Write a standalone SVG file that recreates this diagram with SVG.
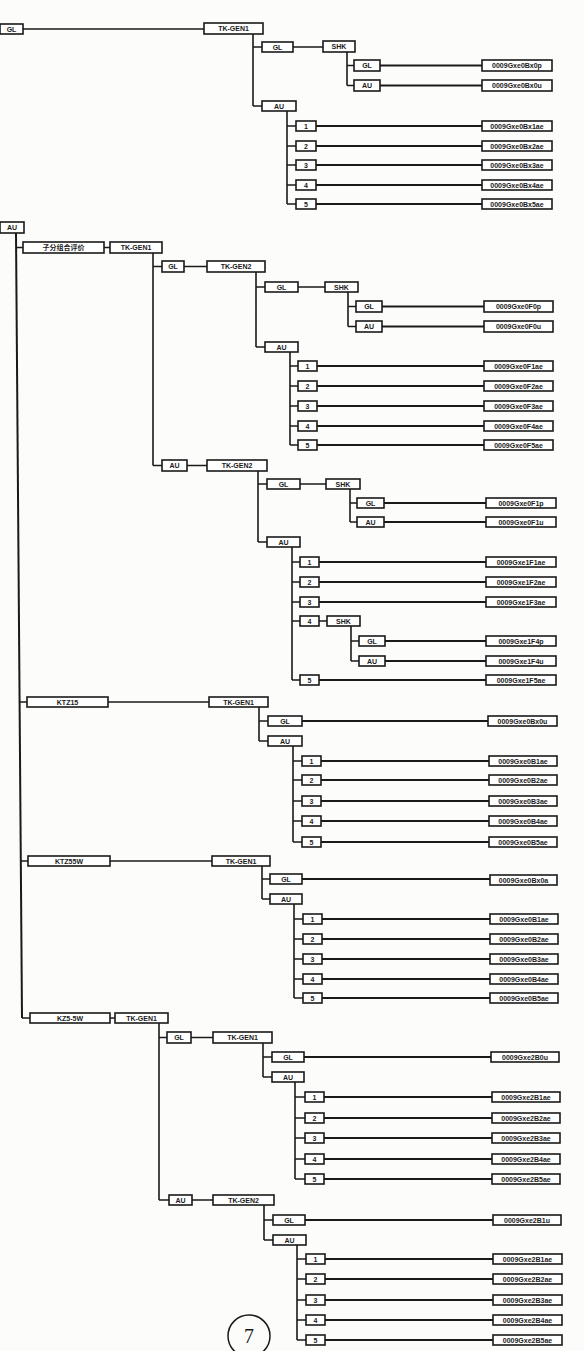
<svg xmlns="http://www.w3.org/2000/svg" width="584" height="1351" viewBox="0 0 584 1351">
<style>
.b{fill:#fff;stroke:#1a1a1a;stroke-width:1.6}
.t{font-family:"Liberation Sans",Arial,sans-serif;font-size:7px;font-weight:bold;fill:#1a1a1a;text-anchor:middle}
.tc{font-family:"Liberation Sans","Noto Sans CJK SC",sans-serif;font-size:7px;font-weight:bold;fill:#1a1a1a;text-anchor:middle}
.c{fill:none;stroke:#1a1a1a;stroke-width:1.6}
.w{stroke-width:2}
</style>
<rect width="584" height="1351" fill="#fcfcfb"/>
<g id="connectors">
<path class="c" d="M23 29H204M253 34V106M253 47H262M253 106H262M293 47H323M347 52V85.5M347 65.5H354M347 85.5H354M287 111V204M287 126H296M287 146H296M287 165H296M287 185H296M287 204H296"/>
<path class="c w" d="M380 65.5H482M380 85.5H482M316 126H482M316 146H482M316 165H482M316 185H482M316 204H482"/>
<path class="c w" d="M16 233L22 1018"/>
<path class="c" d="M16 247.5H23M104 247.5H110M153 253V465.5M153 266.5H162M153 465.5H162M184 266.5H207M256 272V347M256 287H265M256 347H265M298 287H325M348 292V326.5M348 306.5H356M348 326.5H356M290 352V445M290 366H298M290 386H298M290 406H298M290 426H298M290 445H298"/>
<path class="c w" d="M382 306.5H484M382 326.5H484M317 366H484M317 386H484M317 406H484M317 426H484M317 445H484"/>
<path class="c" d="M187 465.5H207M258 471V542M258 484H267M258 542H267M300 484H326M350 489V522M350 503H357M350 522H357M292 547V680M292 562H300M292 582H300M292 602H300M292 621H300M292 680H300M319 621H327M351 626V661M351 641H359M351 661H359"/>
<path class="c w" d="M384 503H486M384 522H486M319 562H486M319 582H486M319 602H486M319 680H486M385 641H486M385 661H486"/>
<path class="c" d="M19.6 702H27M108 702H209M259 707V741M259 721H268M259 741H268M293 746V842M293 761H302M293 780H302M293 801H302M293 821H302M293 842H302"/>
<path class="c w" d="M302 721H488M321 761H489M321 780H489M321 801H489M321 821H489M321 842H489"/>
<path class="c" d="M20.8 861H28M110 861H212M262 866V899M262 879H270M262 899H270M294 904V998M294 919H303M294 939H303M294 959H303M294 979H303M294 998H303"/>
<path class="c w" d="M302 879H490M322 919H490M322 939H490M322 959H490M322 979H490M322 998H490"/>
<path class="c" d="M22 1018H30M110 1018H115M159 1023V1200M159 1037.5H167M159 1200H169M191 1037.5H213M263 1043V1077M263 1057H272M263 1077H272M295 1082V1179M295 1097H305M295 1118H305M295 1138H305M295 1159H305M295 1179H305M192 1200H213M264 1205V1240M264 1220H273M264 1240H273M297 1245V1340M297 1259H306M297 1279H306M297 1300H306M297 1320H306M297 1340H306"/>
<path class="c w" d="M304 1057H491M324 1097H492M324 1118H492M324 1138H492M324 1159H492M324 1179H492M305 1220H493M325 1259H493M325 1279H493M325 1300H493M325 1320H493M325 1340H493"/>
</g>
<!-- section 0 -->
<g id="n0"><rect class="b" x="0" y="24" width="23" height="10"/><text class="t" x="11.5" y="31.5">GL</text></g>
<g id="n0a"><rect class="b" x="204" y="23" width="59" height="11"/><text class="t" x="233.5" y="31">TK-GEN1</text></g>
<g id="n0b"><rect class="b" x="262" y="42" width="31" height="10"/><text class="t" x="277.5" y="49.5">GL</text></g>
<g id="n0c"><rect class="b" x="323" y="41" width="32" height="11"/><text class="t" x="339" y="49">SHK</text></g>
<g id="n0d"><rect class="b" x="354" y="60" width="26" height="11"/><text class="t" x="367" y="68">GL</text></g>
<g id="n0e"><rect class="b" x="482" y="60" width="70" height="11"/><text class="t" x="517" y="68">0009Gxe0Bx0p</text></g>
<g id="n0f"><rect class="b" x="354" y="80" width="26" height="11"/><text class="t" x="367" y="88">AU</text></g>
<g id="n0g"><rect class="b" x="482" y="80" width="70" height="11"/><text class="t" x="517" y="88">0009Gxe0Bx0u</text></g>
<g id="n0h"><rect class="b" x="262" y="101" width="34" height="10"/><text class="t" x="279" y="108.5">AU</text></g>
<g id="n0i1"><rect class="b" x="296" y="121" width="20" height="10"/><text class="t" x="306" y="128.5">1</text></g>
<g id="n0i2"><rect class="b" x="296" y="141" width="20" height="10"/><text class="t" x="306" y="148.5">2</text></g>
<g id="n0i3"><rect class="b" x="296" y="160" width="20" height="10"/><text class="t" x="306" y="167.5">3</text></g>
<g id="n0i4"><rect class="b" x="296" y="180" width="20" height="10"/><text class="t" x="306" y="187.5">4</text></g>
<g id="n0i5"><rect class="b" x="296" y="199" width="20" height="10"/><text class="t" x="306" y="206.5">5</text></g>
<g id="n0j1"><rect class="b" x="482" y="121" width="70" height="10"/><text class="t" x="517" y="128.5">0009Gxe0Bx1ae</text></g>
<g id="n0j2"><rect class="b" x="482" y="141" width="70" height="10"/><text class="t" x="517" y="148.5">0009Gxe0Bx2ae</text></g>
<g id="n0j3"><rect class="b" x="482" y="160" width="70" height="10"/><text class="t" x="517" y="167.5">0009Gxe0Bx3ae</text></g>
<g id="n0j4"><rect class="b" x="482" y="180" width="70" height="10"/><text class="t" x="517" y="187.5">0009Gxe0Bx4ae</text></g>
<g id="n0j5"><rect class="b" x="482" y="199" width="70" height="10"/><text class="t" x="517" y="206.5">0009Gxe0Bx5ae</text></g>
<!-- section 1 -->
<g id="n1"><rect class="b" x="0" y="222" width="24" height="11"/><text class="t" x="12" y="230">AU</text></g>
<g id="n1a"><rect class="b" x="23" y="242" width="81" height="11"/><text class="tc" x="63.5" y="250">子分组合评价</text></g>
<g id="n1b"><rect class="b" x="110" y="242" width="52" height="11"/><text class="t" x="136" y="250">TK-GEN1</text></g>
<g id="n1c"><rect class="b" x="162" y="261" width="22" height="11"/><text class="t" x="173" y="269">GL</text></g>
<g id="n1d"><rect class="b" x="207" y="261" width="58" height="11"/><text class="t" x="236" y="269">TK-GEN2</text></g>
<g id="n1e"><rect class="b" x="265" y="282" width="33" height="10"/><text class="t" x="281.5" y="289.5">GL</text></g>
<g id="n1f"><rect class="b" x="325" y="282" width="33" height="10"/><text class="t" x="341.5" y="289.5">SHK</text></g>
<g id="n1g"><rect class="b" x="356" y="301" width="26" height="11"/><text class="t" x="369" y="309">GL</text></g>
<g id="n1h"><rect class="b" x="484" y="301" width="69" height="11"/><text class="t" x="518.5" y="309">0009Gxe0F0p</text></g>
<g id="n1i"><rect class="b" x="356" y="321" width="26" height="11"/><text class="t" x="369" y="329">AU</text></g>
<g id="n1j"><rect class="b" x="484" y="321" width="69" height="11"/><text class="t" x="518.5" y="329">0009Gxe0F0u</text></g>
<g id="n1k"><rect class="b" x="265" y="342" width="33" height="10"/><text class="t" x="281.5" y="349.5">AU</text></g>
<g id="n1l1"><rect class="b" x="298" y="361" width="19" height="10"/><text class="t" x="307.5" y="368.5">1</text></g>
<g id="n1l2"><rect class="b" x="298" y="381" width="19" height="10"/><text class="t" x="307.5" y="388.5">2</text></g>
<g id="n1l3"><rect class="b" x="298" y="401" width="19" height="10"/><text class="t" x="307.5" y="408.5">3</text></g>
<g id="n1l4"><rect class="b" x="298" y="421" width="19" height="10"/><text class="t" x="307.5" y="428.5">4</text></g>
<g id="n1l5"><rect class="b" x="298" y="440" width="19" height="10"/><text class="t" x="307.5" y="447.5">5</text></g>
<g id="n1m1"><rect class="b" x="484" y="361" width="69" height="10"/><text class="t" x="518.5" y="368.5">0009Gxe0F1ae</text></g>
<g id="n1m2"><rect class="b" x="484" y="381" width="69" height="10"/><text class="t" x="518.5" y="388.5">0009Gxe0F2ae</text></g>
<g id="n1m3"><rect class="b" x="484" y="401" width="69" height="10"/><text class="t" x="518.5" y="408.5">0009Gxe0F3ae</text></g>
<g id="n1m4"><rect class="b" x="484" y="421" width="69" height="10"/><text class="t" x="518.5" y="428.5">0009Gxe0F4ae</text></g>
<g id="n1m5"><rect class="b" x="484" y="440" width="69" height="10"/><text class="t" x="518.5" y="447.5">0009Gxe0F5ae</text></g>
<g id="n2a"><rect class="b" x="162" y="460" width="25" height="11"/><text class="t" x="174.5" y="468">AU</text></g>
<g id="n2b"><rect class="b" x="207" y="460" width="60" height="11"/><text class="t" x="237" y="468">TK-GEN2</text></g>
<g id="n2c"><rect class="b" x="267" y="479" width="33" height="10"/><text class="t" x="283.5" y="486.5">GL</text></g>
<g id="n2d"><rect class="b" x="326" y="479" width="34" height="10"/><text class="t" x="343" y="486.5">SHK</text></g>
<g id="n2e"><rect class="b" x="357" y="498" width="27" height="10"/><text class="t" x="370.5" y="505.5">GL</text></g>
<g id="n2f"><rect class="b" x="486" y="498" width="70" height="10"/><text class="t" x="521" y="505.5">0009Gxe0F1p</text></g>
<g id="n2g"><rect class="b" x="357" y="517" width="27" height="10"/><text class="t" x="370.5" y="524.5">AU</text></g>
<g id="n2h"><rect class="b" x="486" y="517" width="70" height="10"/><text class="t" x="521" y="524.5">0009Gxe0F1u</text></g>
<g id="n2i"><rect class="b" x="267" y="537" width="33" height="10"/><text class="t" x="283.5" y="544.5">AU</text></g>
<g id="n2j1"><rect class="b" x="300" y="557" width="19" height="10"/><text class="t" x="309.5" y="564.5">1</text></g>
<g id="n2j2"><rect class="b" x="300" y="577" width="19" height="10"/><text class="t" x="309.5" y="584.5">2</text></g>
<g id="n2j3"><rect class="b" x="300" y="597" width="19" height="10"/><text class="t" x="309.5" y="604.5">3</text></g>
<g id="n2j4"><rect class="b" x="300" y="616" width="19" height="10"/><text class="t" x="309.5" y="623.5">4</text></g>
<g id="n2j5"><rect class="b" x="300" y="675" width="19" height="10"/><text class="t" x="309.5" y="682.5">5</text></g>
<g id="n2k1"><rect class="b" x="486" y="557" width="70" height="10"/><text class="t" x="521" y="564.5">0009Gxe1F1ae</text></g>
<g id="n2k2"><rect class="b" x="486" y="577" width="70" height="10"/><text class="t" x="521" y="584.5">0009Gxe1F2ae</text></g>
<g id="n2k3"><rect class="b" x="486" y="597" width="70" height="10"/><text class="t" x="521" y="604.5">0009Gxe1F3ae</text></g>
<g id="n2l"><rect class="b" x="327" y="616" width="33" height="10"/><text class="t" x="343.5" y="623.5">SHK</text></g>
<g id="n2m"><rect class="b" x="359" y="636" width="26" height="10"/><text class="t" x="372" y="643.5">GL</text></g>
<g id="n2n"><rect class="b" x="486" y="636" width="70" height="10"/><text class="t" x="521" y="643.5">0009Gxe1F4p</text></g>
<g id="n2o"><rect class="b" x="359" y="656" width="26" height="10"/><text class="t" x="372" y="663.5">AU</text></g>
<g id="n2p"><rect class="b" x="486" y="656" width="70" height="10"/><text class="t" x="521" y="663.5">0009Gxe1F4u</text></g>
<g id="n2k5"><rect class="b" x="486" y="675" width="70" height="10"/><text class="t" x="521" y="682.5">0009Gxe1F5ae</text></g>
<!-- branch 2 -->
<g id="n3a"><rect class="b" x="27" y="697" width="81" height="10"/><text class="t" x="67.5" y="704.5">KTZ15</text></g>
<g id="n3b"><rect class="b" x="209" y="697" width="59" height="10"/><text class="t" x="238.5" y="704.5">TK-GEN1</text></g>
<g id="n3c"><rect class="b" x="268" y="716" width="34" height="10"/><text class="t" x="285" y="723.5">GL</text></g>
<g id="n3d"><rect class="b" x="488" y="716" width="69" height="10"/><text class="t" x="522.5" y="723.5">0009Gxe0Bx0u</text></g>
<g id="n3e"><rect class="b" x="268" y="736" width="34" height="10"/><text class="t" x="285" y="743.5">AU</text></g>
<g id="n3f1"><rect class="b" x="302" y="756" width="19" height="10"/><text class="t" x="311.5" y="763.5">1</text></g>
<g id="n3f2"><rect class="b" x="302" y="775" width="19" height="10"/><text class="t" x="311.5" y="782.5">2</text></g>
<g id="n3f3"><rect class="b" x="302" y="796" width="19" height="10"/><text class="t" x="311.5" y="803.5">3</text></g>
<g id="n3f4"><rect class="b" x="302" y="816" width="19" height="10"/><text class="t" x="311.5" y="823.5">4</text></g>
<g id="n3f5"><rect class="b" x="302" y="837" width="19" height="10"/><text class="t" x="311.5" y="844.5">5</text></g>
<g id="n3g1"><rect class="b" x="489" y="756" width="68" height="10"/><text class="t" x="523" y="763.5">0009Gxe0B1ae</text></g>
<g id="n3g2"><rect class="b" x="489" y="775" width="68" height="10"/><text class="t" x="523" y="782.5">0009Gxe0B2ae</text></g>
<g id="n3g3"><rect class="b" x="489" y="796" width="68" height="10"/><text class="t" x="523" y="803.5">0009Gxe0B3ae</text></g>
<g id="n3g4"><rect class="b" x="489" y="816" width="68" height="10"/><text class="t" x="523" y="823.5">0009Gxe0B4ae</text></g>
<g id="n3g5"><rect class="b" x="489" y="837" width="68" height="10"/><text class="t" x="523" y="844.5">0009Gxe0B5ae</text></g>
<!-- branch 3 -->
<g id="n4a"><rect class="b" x="28" y="856" width="82" height="10"/><text class="t" x="69" y="863.5">KTZ55W</text></g>
<g id="n4b"><rect class="b" x="212" y="856" width="58" height="10"/><text class="t" x="241" y="863.5">TK-GEN1</text></g>
<g id="n4c"><rect class="b" x="270" y="874" width="32" height="10"/><text class="t" x="286" y="881.5">GL</text></g>
<g id="n4d"><rect class="b" x="490" y="875" width="67" height="10"/><text class="t" x="523.5" y="882.5">0009Gxe0Bx0a</text></g>
<g id="n4e"><rect class="b" x="270" y="894" width="32" height="10"/><text class="t" x="286" y="901.5">AU</text></g>
<g id="n4f1"><rect class="b" x="303" y="914" width="19" height="10"/><text class="t" x="312.5" y="921.5">1</text></g>
<g id="n4f2"><rect class="b" x="303" y="934" width="19" height="10"/><text class="t" x="312.5" y="941.5">2</text></g>
<g id="n4f3"><rect class="b" x="303" y="954" width="19" height="10"/><text class="t" x="312.5" y="961.5">3</text></g>
<g id="n4f4"><rect class="b" x="303" y="974" width="19" height="10"/><text class="t" x="312.5" y="981.5">4</text></g>
<g id="n4f5"><rect class="b" x="303" y="993" width="19" height="10"/><text class="t" x="312.5" y="1000.5">5</text></g>
<g id="n4g1"><rect class="b" x="490" y="914" width="68" height="10"/><text class="t" x="524" y="921.5">0009Gxe0B1ae</text></g>
<g id="n4g2"><rect class="b" x="490" y="934" width="68" height="10"/><text class="t" x="524" y="941.5">0009Gxe0B2ae</text></g>
<g id="n4g3"><rect class="b" x="490" y="954" width="68" height="10"/><text class="t" x="524" y="961.5">0009Gxe0B3ae</text></g>
<g id="n4g4"><rect class="b" x="490" y="974" width="68" height="10"/><text class="t" x="524" y="981.5">0009Gxe0B4ae</text></g>
<g id="n4g5"><rect class="b" x="490" y="993" width="68" height="10"/><text class="t" x="524" y="1000.5">0009Gxe0B5ae</text></g>
<!-- branch 4 -->
<g id="n5a"><rect class="b" x="30" y="1013" width="80" height="10"/><text class="t" x="70" y="1020.5">KZ5-5W</text></g>
<g id="n5b"><rect class="b" x="115" y="1013" width="53" height="10"/><text class="t" x="141.5" y="1020.5">TK-GEN1</text></g>
<g id="n5c"><rect class="b" x="167" y="1032" width="24" height="11"/><text class="t" x="179" y="1040">GL</text></g>
<g id="n5d"><rect class="b" x="213" y="1032" width="59" height="11"/><text class="t" x="242.5" y="1040">TK-GEN1</text></g>
<g id="n5e"><rect class="b" x="272" y="1052" width="32" height="10"/><text class="t" x="288" y="1059.5">GL</text></g>
<g id="n5f"><rect class="b" x="491" y="1052" width="68" height="10"/><text class="t" x="525" y="1059.5">0009Gxe2B0u</text></g>
<g id="n5g"><rect class="b" x="272" y="1072" width="32" height="10"/><text class="t" x="288" y="1079.5">AU</text></g>
<g id="n5h1"><rect class="b" x="305" y="1092" width="19" height="10"/><text class="t" x="314.5" y="1099.5">1</text></g>
<g id="n5h2"><rect class="b" x="305" y="1113" width="19" height="10"/><text class="t" x="314.5" y="1120.5">2</text></g>
<g id="n5h3"><rect class="b" x="305" y="1133" width="19" height="10"/><text class="t" x="314.5" y="1140.5">3</text></g>
<g id="n5h4"><rect class="b" x="305" y="1154" width="19" height="10"/><text class="t" x="314.5" y="1161.5">4</text></g>
<g id="n5h5"><rect class="b" x="305" y="1174" width="19" height="10"/><text class="t" x="314.5" y="1181.5">5</text></g>
<g id="n5i1"><rect class="b" x="492" y="1092" width="68" height="10"/><text class="t" x="526" y="1099.5">0009Gxe2B1ae</text></g>
<g id="n5i2"><rect class="b" x="492" y="1113" width="68" height="10"/><text class="t" x="526" y="1120.5">0009Gxe2B2ae</text></g>
<g id="n5i3"><rect class="b" x="492" y="1133" width="68" height="10"/><text class="t" x="526" y="1140.5">0009Gxe2B3ae</text></g>
<g id="n5i4"><rect class="b" x="492" y="1154" width="68" height="10"/><text class="t" x="526" y="1161.5">0009Gxe2B4ae</text></g>
<g id="n5i5"><rect class="b" x="492" y="1174" width="68" height="10"/><text class="t" x="526" y="1181.5">0009Gxe2B5ae</text></g>
<g id="n6a"><rect class="b" x="169" y="1195" width="23" height="10"/><text class="t" x="180.5" y="1202.5">AU</text></g>
<g id="n6b"><rect class="b" x="213" y="1195" width="61" height="10"/><text class="t" x="243.5" y="1202.5">TK-GEN2</text></g>
<g id="n6c"><rect class="b" x="273" y="1215" width="32" height="10"/><text class="t" x="289" y="1222.5">GL</text></g>
<g id="n6d"><rect class="b" x="493" y="1215" width="68" height="10"/><text class="t" x="527" y="1222.5">0009Gxe2B1u</text></g>
<g id="n6e"><rect class="b" x="273" y="1235" width="33" height="10"/><text class="t" x="289.5" y="1242.5">AU</text></g>
<g id="n6f1"><rect class="b" x="306" y="1254" width="19" height="10"/><text class="t" x="315.5" y="1261.5">1</text></g>
<g id="n6f2"><rect class="b" x="306" y="1274" width="19" height="10"/><text class="t" x="315.5" y="1281.5">2</text></g>
<g id="n6f3"><rect class="b" x="306" y="1295" width="19" height="10"/><text class="t" x="315.5" y="1302.5">3</text></g>
<g id="n6f4"><rect class="b" x="306" y="1315" width="19" height="10"/><text class="t" x="315.5" y="1322.5">4</text></g>
<g id="n6f5"><rect class="b" x="306" y="1335" width="19" height="10"/><text class="t" x="315.5" y="1342.5">5</text></g>
<g id="n6g1"><rect class="b" x="493" y="1254" width="69" height="10"/><text class="t" x="527.5" y="1261.5">0009Gxe2B1ae</text></g>
<g id="n6g2"><rect class="b" x="493" y="1274" width="69" height="10"/><text class="t" x="527.5" y="1281.5">0009Gxe2B2ae</text></g>
<g id="n6g3"><rect class="b" x="493" y="1295" width="69" height="10"/><text class="t" x="527.5" y="1302.5">0009Gxe2B3ae</text></g>
<g id="n6g4"><rect class="b" x="493" y="1315" width="69" height="10"/><text class="t" x="527.5" y="1322.5">0009Gxe2B4ae</text></g>
<g id="n6g5"><rect class="b" x="493" y="1335" width="69" height="10"/><text class="t" x="527.5" y="1342.5">0009Gxe2B5ae</text></g>
<g id="page">
<circle cx="249" cy="1336" r="21" fill="none" stroke="#1a1a1a" stroke-width="1.5"/>
<text x="249" y="1343" font-family="'Liberation Serif',serif" font-size="20" text-anchor="middle" fill="#1a1a1a">7</text>
</g>
</svg>
